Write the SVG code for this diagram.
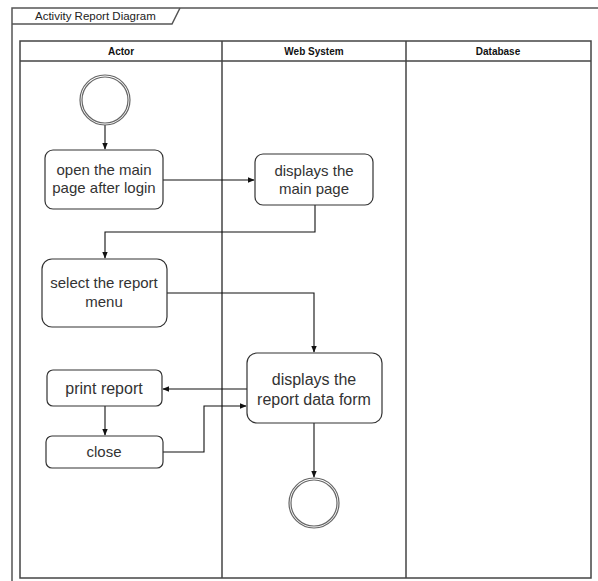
<svg xmlns="http://www.w3.org/2000/svg" width="598" height="581" viewBox="0 0 598 581">
<style>
.frame{fill:none;stroke:#555;stroke-width:1.5}
.lane{fill:none;stroke:#444;stroke-width:1.5}
.node{fill:#fff;stroke:#333;stroke-width:1.2}
.ring{fill:#fff;stroke:#666;stroke-width:1.2}
.edge{fill:none;stroke:#111;stroke-width:1.1}
text{font-family:"Liberation Sans",Arial,sans-serif;fill:#333;text-anchor:middle}
.t{font-size:15px}
.tl{font-size:16px}
.h{font-size:10px;font-weight:bold;fill:#111}
.title{font-size:11.5px;text-anchor:start;fill:#222}
</style>
<defs>
<marker id="arr" viewBox="0 0 10 10" refX="9" refY="5" markerWidth="7" markerHeight="7" orient="auto" markerUnits="userSpaceOnUse">
<path d="M0,1 L10,5 L0,9 Z" fill="#111"/>
</marker>
</defs>
<rect width="598" height="581" fill="#fff"/>
<g id="frame">
<path class="frame" d="M12,581 V8 H598"/>
<path class="frame" d="M12,24 H172 L180,8"/>
<text class="title" x="35" y="20">Activity Report Diagram</text>
</g>
<g id="pool">
<rect class="lane" x="20" y="41" width="571" height="537"/>
<line class="lane" x1="20" y1="61" x2="591" y2="61"/>
<line class="lane" x1="222" y1="41" x2="222" y2="578"/>
<line class="lane" x1="406" y1="41" x2="406" y2="578"/>
<text class="h" x="121" y="55">Actor</text>
<text class="h" x="314" y="55">Web System</text>
<text class="h" x="498" y="55">Database</text>
</g>
<g id="connectors">
<path class="edge" d="M105,125 V149" marker-end="url(#arr)"/>
<path class="edge" d="M163,180 H254" marker-end="url(#arr)"/>
<path class="edge" d="M315,205 V232 H105 V258" marker-end="url(#arr)"/>
<path class="edge" d="M167,293 H314 V352" marker-end="url(#arr)"/>
<path class="edge" d="M247,389 H163" marker-end="url(#arr)"/>
<path class="edge" d="M105,406 V435" marker-end="url(#arr)"/>
<path class="edge" d="M163,452 H204 V406 H246" marker-end="url(#arr)"/>
<path class="edge" d="M314,423 V477" marker-end="url(#arr)"/>
</g>
<g id="start">
<circle class="ring" cx="105" cy="100" r="25"/>
<circle class="ring" cx="105" cy="100" r="23"/>
</g>
<g id="open-main-page">
<rect class="node" x="45" y="150" width="118" height="59" rx="8"/>
<text class="t" x="104" y="175">open the main</text>
<text class="t" x="104" y="193">page after login</text>
</g>
<g id="displays-main-page">
<rect class="node" x="255" y="154" width="118" height="51" rx="8"/>
<text class="t" x="314" y="176">displays the</text>
<text class="t" x="314" y="194">main page</text>
</g>
<g id="select-report-menu">
<rect class="node" x="42" y="259" width="125" height="68" rx="10"/>
<text class="t" x="104" y="288">select the report</text>
<text class="t" x="104" y="307">menu</text>
</g>
<g id="displays-report-form">
<rect class="node" x="247" y="353" width="135" height="70" rx="10"/>
<text class="tl" x="314" y="385">displays the</text>
<text class="tl" x="314" y="405">report data form</text>
</g>
<g id="print-report">
<rect class="node" x="47" y="370" width="115" height="36" rx="6"/>
<text class="tl" x="104" y="394">print report</text>
</g>
<g id="close">
<rect class="node" x="46" y="436" width="117" height="32" rx="6"/>
<text class="t" x="104" y="457">close</text>
</g>
<g id="end">
<circle class="ring" cx="314" cy="503" r="25"/>
<circle class="ring" cx="314" cy="503" r="23"/>
</g>
</svg>
